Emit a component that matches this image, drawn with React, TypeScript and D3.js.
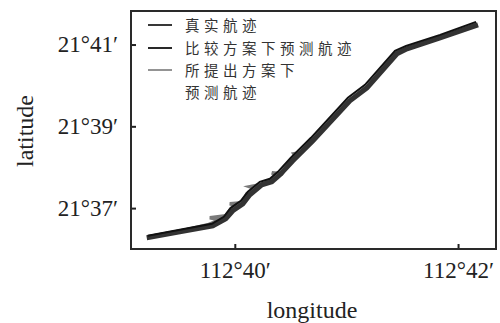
import React, { useEffect, useRef } from 'react'
import * as d3 from 'd3'

// minutes past 112° (lon) and 21° (lat)
const trueTrack: [number, number][] = [
  [39.211, 36.274], [39.507, 36.42], [39.803, 36.567], [39.919, 36.738], [39.982, 36.934],
  [40.072, 37.105], [40.135, 37.325], [40.242, 37.57], [40.332, 37.643], [40.404, 37.814],
  [40.52, 38.156], [40.7, 38.645], [41.031, 39.623], [41.184, 39.941], [41.453, 40.773],
  [41.543, 40.895], [41.839, 41.164], [42.179, 41.482]
]
const compareTrack: [number, number][] = [
  [39.22, 36.322], [39.507, 36.469], [39.794, 36.616], [39.901, 36.787], [39.964, 37.007],
  [40.054, 37.178], [40.117, 37.399], [40.224, 37.643], [40.314, 37.716], [40.386, 37.887],
  [40.502, 38.23], [40.682, 38.719], [41.013, 39.697], [41.166, 40.015], [41.435, 40.846],
  [41.534, 40.968], [41.839, 41.237], [42.161, 41.555]
]
const proposedTrack: [number, number][] = [
  [39.238, 36.298], [39.525, 36.445], [39.758, 36.592], [39.865, 36.714], [39.776, 36.763],
  [39.919, 36.812], [39.964, 36.983], [40.027, 37.056], [39.955, 37.105], [40.063, 37.13],
  [40.108, 37.35], [40.188, 37.472], [40.135, 37.521], [40.224, 37.57], [40.314, 37.667],
  [40.386, 37.79], [40.332, 37.863], [40.422, 37.839], [40.502, 38.181], [40.547, 38.254],
  [40.529, 38.328], [40.583, 38.352], [40.691, 38.67], [40.852, 39.134], [41.031, 39.648],
  [41.184, 39.966], [41.444, 40.797], [41.57, 40.944], [41.848, 41.188], [42.17, 41.506]
]

const xTicks = [40, 42]
const yTicks = [37, 39, 41]
const legendLabels = [['真实航迹'], ['比较方案下预测航迹'], ['所提出方案下', '预测航迹']]

const W = 500
const H = 323

export default function App() {
  const ref = useRef<SVGSVGElement>(null)

  useEffect(() => {
    const svg = d3.select(ref.current)
    svg.selectAll('*').remove()

    const x = d3.scaleLinear().domain([39.07, 42.34]).range([131, 496])
    const y = d3.scaleLinear().domain([36.0, 41.82]).range([249, 11])
    const serif = '"Liberation Serif", "DejaVu Serif", serif'

    // tracks
    const line = d3.line<[number, number]>().x(d => x(d[0])).y(d => y(d[1]))
    svg.append('path').datum(proposedTrack).attr('d', line)
      .attr('fill', 'none').attr('stroke', '#7a7a7a').attr('stroke-width', 3.5)
    svg.append('path').datum(trueTrack).attr('d', line)
      .attr('fill', 'none').attr('stroke', '#333').attr('stroke-width', 5)
    svg.append('path').datum(compareTrack).attr('d', line)
      .attr('fill', 'none').attr('stroke', '#111').attr('stroke-width', 2)

    // axes (ticks inward)
    const fmtX = (d: d3.NumberValue) => `112°${d}′`
    const fmtY = (d: d3.NumberValue) => `21°${d}′`
    const xAxis = d3.axisBottom(x).tickValues(xTicks).tickSizeInner(-5).tickSizeOuter(0)
      .tickPadding(13).tickFormat(fmtX)
    const yAxis = d3.axisLeft(y).tickValues(yTicks).tickSizeInner(-5).tickSizeOuter(0)
      .tickPadding(13).tickFormat(fmtY)

    const gx = svg.append('g').attr('transform', 'translate(0,249)').call(xAxis)
    const gy = svg.append('g').attr('transform', 'translate(131,0)').call(yAxis)
    for (const g of [gx, gy]) {
      g.select('.domain').remove()
      g.selectAll('line').attr('stroke', '#222').attr('stroke-width', 2)
      g.selectAll('text').attr('font-family', serif).attr('font-size', 23).attr('fill', '#222')
    }

    // frame
    svg.append('rect').attr('x', 131).attr('y', 11).attr('width', 365).attr('height', 238)
      .attr('fill', 'none').attr('stroke', '#2a2a2a').attr('stroke-width', 2)

    // axis titles
    svg.append('text').attr('x', 312).attr('y', 318).attr('text-anchor', 'middle')
      .attr('font-family', serif).attr('font-size', 24).attr('fill', '#222').text('longitude')
    svg.append('text').attr('transform', 'translate(33,131) rotate(-90)').attr('text-anchor', 'middle')
      .attr('font-family', serif).attr('font-size', 24).attr('fill', '#222').text('latitude')

    // legend
    const legendColors = ['#222', '#111', '#888']
    const rowY = [25, 48, 70]
    const leg = svg.append('g')
    legendLabels.forEach((lab, i) => {
      leg.append('line').attr('x1', 148).attr('x2', 172).attr('y1', rowY[i]).attr('y2', rowY[i])
        .attr('stroke', legendColors[i]).attr('stroke-width', 1.8)
      const t = leg.append('text').attr('x', 185).attr('y', rowY[i] + 6)
        .attr('font-family', '"Noto Sans CJK SC", sans-serif').attr('font-size', 14.5)
        .attr('letter-spacing', 4.5).attr('fill', '#333')
      lab.forEach((s, j) => {
        t.append('tspan').attr('x', 185).attr('dy', j === 0 ? 0 : 21.5).text(s)
      })
    })
  }, [])

  return (
    <svg ref={ref} width={W} height={H} style={{ position: 'absolute', left: 0, top: 0 }} />
  )
}
